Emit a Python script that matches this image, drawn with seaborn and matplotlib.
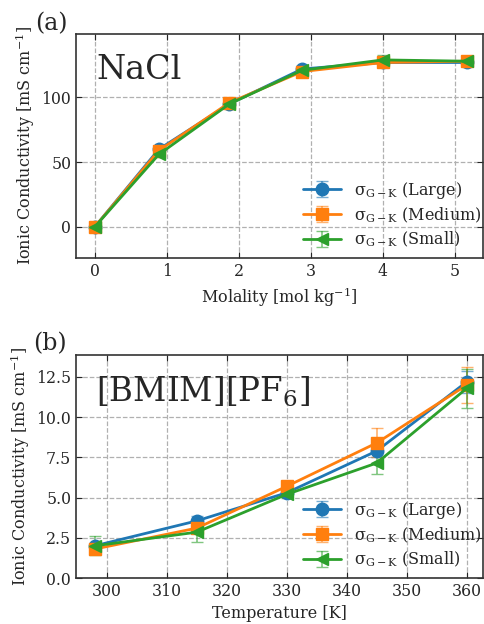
import numpy as np
import matplotlib
matplotlib.use("Agg")
import matplotlib.pyplot as plt
import seaborn as sns

# Panel (a): NaCl
molality = [0.0, 0.89, 1.87, 2.88, 4.0, 5.17]
nacl_large = [0.0, 60.0, 95.0, 122.0, 127.0, 127.0]
nacl_medium = [0.0, 59.0, 96.0, 120.0, 127.0, 128.0]
nacl_small = [0.0, 56.0, 95.0, 121.0, 129.0, 128.0]
nacl_large_err = [0.5, 2.0, 2.0, 2.0, 3.0, 3.0]
nacl_medium_err = [0.5, 2.0, 2.0, 2.0, 3.0, 3.0]
nacl_small_err = [0.5, 2.0, 2.0, 2.0, 4.0, 3.0]

# Panel (b): [BMIM][PF6]
temperature = [298, 315, 330, 345, 360]
bmim_large = [2.0, 3.55, 5.3, 7.9, 12.2]
bmim_medium = [1.8, 3.1, 5.7, 8.4, 12.0]
bmim_small = [2.0, 2.85, 5.2, 7.15, 11.8]
bmim_large_err = [0.1, 0.3, 0.2, 0.4, 0.7]
bmim_medium_err = [0.2, 0.3, 0.2, 0.9, 1.1]
bmim_small_err = [0.6, 0.6, 0.2, 0.7, 1.2]

labels = [r"σ$_{\rm G-K}$ (Large)", r"σ$_{\rm G-K}$ (Medium)",
          r"σ$_{\rm G-K}$ (Small)"]
markers = ["o", "s", "<"]

sns.set_style("ticks", {"xtick.direction": "in", "ytick.direction": "in"})
plt.rcParams["font.family"] = ["DejaVu Serif"]
plt.rcParams["mathtext.fontset"] = "dejavuserif"
colors = sns.color_palette("tab10", 3)

fig = plt.figure(figsize=(4.84, 6.24), dpi=100)
ax1 = fig.add_axes([0.157, 0.5865, 0.841, 0.359])
ax2 = fig.add_axes([0.157, 0.0737, 0.841, 0.357])


def draw(ax, x, ys, errs):
    for y, e, c, m, lab in zip(ys, errs, colors, markers, labels):
        ax.errorbar(x, y, yerr=e, color=c, marker=m, markersize=9, lw=2,
                    capsize=4, elinewidth=1.2, ecolor=c + (0.6,), label=lab)
    ax.grid(True, ls="--", color="#b0b0b0", lw=0.9)
    ax.set_axisbelow(True)
    ax.tick_params(labelsize=11.3, top=True, right=True, length=4)
    for s in ax.spines.values():
        s.set_color("#333333")
        s.set_linewidth(1.2)
    ax.set_ylabel(r"Ionic Conductivity [mS cm$^{-1}$]", fontsize=11.5,
                  labelpad=3)
    ax.legend(loc="lower right", frameon=False, fontsize=11.5,
              handlelength=2.4, handletextpad=0.8, labelspacing=0.3,
              borderaxespad=0.1, bbox_to_anchor=(1.015, 0.005))


draw(ax1, molality, [nacl_large, nacl_medium, nacl_small],
     [nacl_large_err, nacl_medium_err, nacl_small_err])
ax1.set_xlim(-0.26, 5.39)
ax1.set_ylim(-24, 149)
ax1.set_xticks([0, 1, 2, 3, 4, 5])
ax1.set_yticks([0, 50, 100])
ax1.set_xlabel(r"Molality [mol kg$^{-1}$]", fontsize=11.5)
ax1.text(0.05, 0.8, "NaCl", transform=ax1.transAxes, fontsize=24)

draw(ax2, temperature, [bmim_large, bmim_medium, bmim_small],
     [bmim_large_err, bmim_medium_err, bmim_small_err])
ax2.set_xlim(294.9, 362.7)
ax2.set_ylim(0, 13.85)
ax2.set_xticks([300, 310, 320, 330, 340, 350, 360])
ax2.set_yticks([0, 2.5, 5, 7.5, 10, 12.5])
ax2.yaxis.set_major_formatter(matplotlib.ticker.FormatStrFormatter("%.1f"))
ax2.set_xlabel("Temperature [K]", fontsize=11.5)
ax2.text(0.05, 0.79, r"[BMIM][PF$_6$]", transform=ax2.transAxes, fontsize=23.5)

fig.text(35 / 484, 1 - 24 / 624, "(a)", fontsize=17, va="center")
fig.text(33 / 484, 1 - 344 / 624, "(b)", fontsize=17, va="center")

fig.savefig("out.png", dpi=100)
